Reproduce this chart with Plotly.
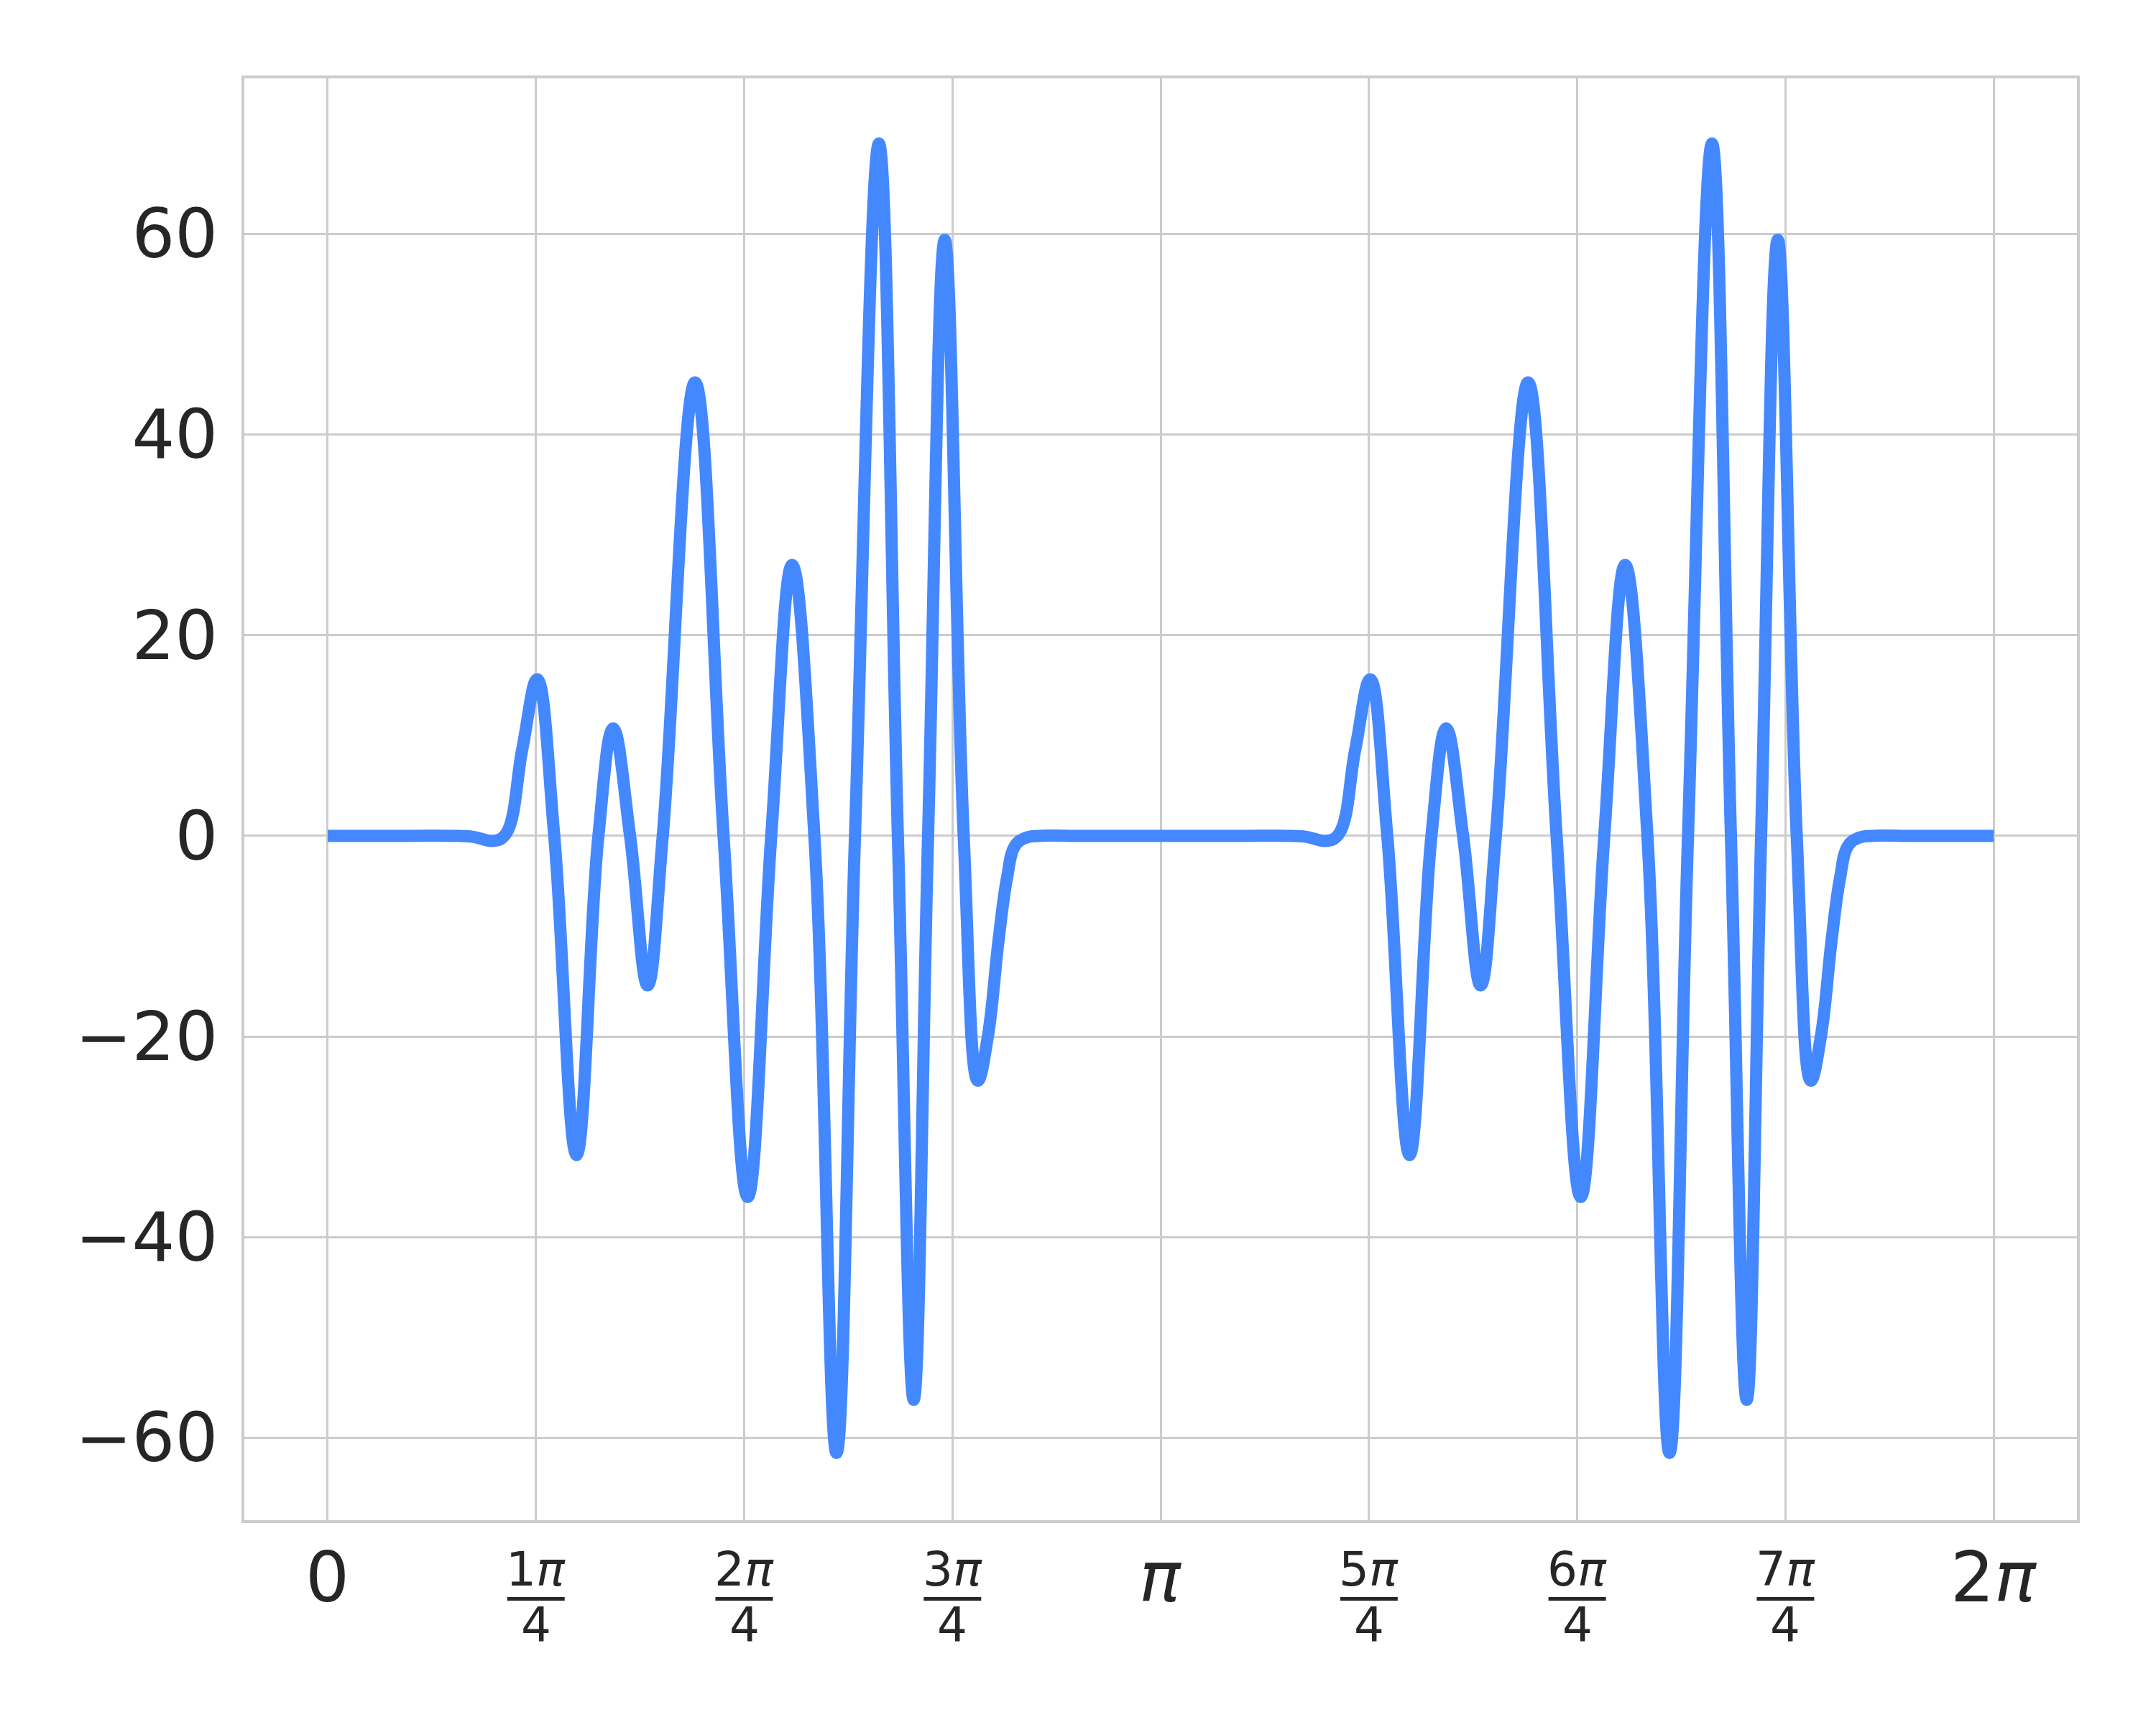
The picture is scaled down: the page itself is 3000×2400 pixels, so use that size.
import numpy as np
import plotly.graph_objects as go

# x positions in units of pi/4, y values
x_quarter_pi = [
    0.0, 0.2, 0.4, 0.6, 0.70, 0.797, 0.856, 0.935, 1.006,
    1.088, 1.195, 1.300, 1.371, 1.452, 1.536, 1.609, 1.764, 1.901, 2.017,
    2.130, 2.230, 2.337, 2.443, 2.532, 2.647, 2.738, 2.814, 2.883, 2.963,
    3.054, 3.122, 3.170, 3.222, 3.262, 3.30, 3.35, 3.42, 3.6, 3.8,
    4.0, 4.2, 4.4, 4.6,
    4.70, 4.797, 4.856, 4.935, 5.006,
    5.088, 5.195, 5.300, 5.371, 5.452, 5.536, 5.609, 5.764, 5.901, 6.017,
    6.130, 6.230, 6.337, 6.443, 6.532, 6.647, 6.738, 6.814, 6.883, 6.963,
    7.054, 7.122, 7.170, 7.222, 7.262, 7.30, 7.35, 7.42, 7.6, 7.8, 8.0,
]
y_values = [
    0, 0, 0, 0, -0.1, -0.5, 0.2, 8.7, 15.6,
    0, -31.8, 0, 10.7, 0, -14.9, 0, 45.2, 0, -36.0,
    0, 27.0, 0, -61.5, 0, 69.0, 0, -56.2, 0, 59.4,
    0, -24.4, -20, -10.3, -4.2, -1.0, -0.2, 0, 0, 0,
    0, 0, 0, 0,
    -0.1, -0.5, 0.2, 8.7, 15.6,
    0, -31.8, 0, 10.7, 0, -14.9, 0, 45.2, 0, -36.0,
    0, 27.0, 0, -61.5, 0, 69.0, 0, -56.2, 0, 59.4,
    0, -24.4, -20, -10.3, -4.2, -1.0, -0.2, 0, 0, 0, 0,
]

x_tick_quarters = [0, 1, 2, 3, 4, 5, 6, 7, 8]
x_tick_main = ["0", None, None, None, "π", None, None, None, "2π"]
x_tick_numer = [None, "1π", "2π", "3π", None, "5π", "6π", "7π", None]
x_tick_denom = [None, "4", "4", "4", None, "4", "4", "4", None]

y_ticks = [-60, -40, -20, 0, 20, 40, 60]

x = np.array(x_quarter_pi) * np.pi / 4
x_ticks = [k * np.pi / 4 for k in x_tick_quarters]

LINE = "#4488ff"
GRID = "#cccccc"
TEXT = "#262626"
FONT = "DejaVu Sans"

fig = go.Figure()
fig.add_trace(go.Scatter(
    x=x, y=y_values, mode="lines",
    line=dict(color=LINE, width=17, shape="spline", smoothing=1.15),
    showlegend=False,
))

def ital(s):
    return s.replace("π", "<i>π</i>")

annotations = []
shapes = []
for xv, main, num, den in zip(x_ticks, x_tick_main, x_tick_numer, x_tick_denom):
    if main is not None:
        annotations.append(dict(
            x=xv, xref="x", y=0, yref="paper", yanchor="top", xanchor="center",
            yshift=-22, text=ital(main), showarrow=False,
            font=dict(family=FONT, size=96, color=TEXT),
        ))
    else:
        annotations.append(dict(
            x=xv, xref="x", y=0, yref="paper", yanchor="top", xanchor="center",
            yshift=-28, text=ital(num), showarrow=False,
            font=dict(family=FONT, size=66, color=TEXT),
        ))
        annotations.append(dict(
            x=xv, xref="x", y=0, yref="paper", yanchor="top", xanchor="center",
            yshift=-105, text=den, showarrow=False,
            font=dict(family=FONT, size=66, color=TEXT),
        ))
        shapes.append(dict(
            type="line", xref="x", xsizemode="pixel", xanchor=xv, x0=-40, x1=40,
            yref="paper", ysizemode="pixel", yanchor=0, y0=-109.5, y1=-109.5,
            line=dict(color=TEXT, width=5),
        ))

fig.update_layout(
    width=3000, height=2400,
    margin=dict(l=332, r=118, t=101, b=293),
    paper_bgcolor="white", plot_bgcolor="white",
    font=dict(family=FONT, color=TEXT),
    annotations=annotations, shapes=shapes,
    xaxis=dict(
        range=[-0.3142, 6.597], tickvals=x_ticks, showticklabels=False,
        showgrid=True, gridcolor=GRID, gridwidth=3, zeroline=False,
        showline=True, mirror=True, linecolor=GRID, linewidth=4, ticks="",
    ),
    yaxis=dict(
        range=[-68.2, 75.5], tickvals=y_ticks,
        tickfont=dict(family=FONT, size=94, color=TEXT),
        showgrid=True, gridcolor=GRID, gridwidth=3, zeroline=False,
        showline=True, mirror=True, linecolor=GRID, linewidth=4, ticks="",
        ticklabelstandoff=14,
    ),
)

fig.write_html("out.html")
